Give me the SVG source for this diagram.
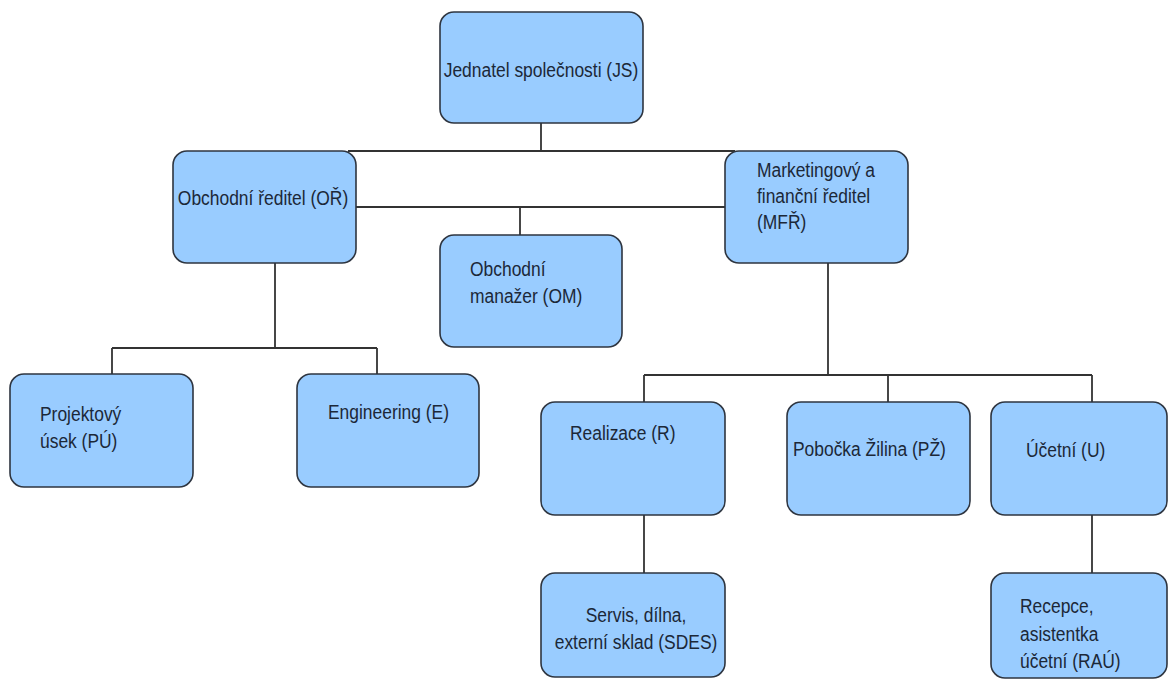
<svg xmlns="http://www.w3.org/2000/svg" width="1170" height="679" viewBox="0 0 1170 679">
<style>
.box{fill:#99ccff;stroke:#2e3540;stroke-width:1.6}
.lbl{font-family:"Liberation Sans",Arial,sans-serif;font-size:21px;fill:#1c2838}
.c{text-anchor:middle}
.conn{stroke:#333;stroke-width:1.8;fill:none}
</style>
<rect width="1170" height="679" fill="#ffffff"/>
<g id="connectors">
<path class="conn" d="M541 123V151M348 151H735"/>
<path class="conn" d="M356 207H725M520 207V235"/>
<path class="conn" d="M275 263V348M112 348H377M112 348V374M377 348V374"/>
<path class="conn" d="M828 263V375M644 375H1092M644 375V402M888 375V402M1092 375V402"/>
<path class="conn" d="M644 515V573M1092 515V573"/>
</g>
<g id="js">
<rect class="box" x="440" y="12" width="203" height="111" rx="14"/>
<text class="lbl c" transform="scale(0.83 1)" x="651.8" y="77">Jednatel společnosti (JS)</text>
</g>
<g id="or">
<rect class="box" x="173" y="151" width="183" height="112" rx="14"/>
<text class="lbl c" transform="scale(0.83 1)" x="316.9" y="205">Obchodní ředitel (OŘ)</text>
</g>
<g id="mfr">
<rect class="box" x="725" y="151" width="183" height="112" rx="14"/>
<text class="lbl" transform="scale(0.83 1)" y="177"><tspan x="912">Marketingový a</tspan><tspan x="912" y="203">finanční ředitel</tspan><tspan x="912" y="229">(MFŘ)</tspan></text>
</g>
<g id="om">
<rect class="box" x="440" y="235" width="182" height="112" rx="14"/>
<text class="lbl" transform="scale(0.83 1)" y="276"><tspan x="566.3">Obchodní</tspan><tspan x="566.3" y="303">manažer (OM)</tspan></text>
</g>
<g id="pu">
<rect class="box" x="10" y="374" width="183" height="113" rx="14"/>
<text class="lbl" transform="scale(0.83 1)" y="421"><tspan x="48.2">Projektový</tspan><tspan x="48.2" y="448">úsek (PÚ)</tspan></text>
</g>
<g id="e">
<rect class="box" x="297" y="374" width="182" height="113" rx="14"/>
<text class="lbl" transform="scale(0.83 1)" x="395.2" y="419">Engineering (E)</text>
</g>
<g id="r">
<rect class="box" x="541" y="402" width="184" height="113" rx="14"/>
<text class="lbl" transform="scale(0.83 1)" x="686.7" y="440">Realizace (R)</text>
</g>
<g id="pz">
<rect class="box" x="787" y="402" width="183" height="113" rx="14"/>
<text class="lbl" transform="scale(0.83 1)" x="955.4" y="456">Pobočka Žilina (PŽ)</text>
</g>
<g id="u">
<rect class="box" x="991" y="402" width="176" height="113" rx="14"/>
<text class="lbl" transform="scale(0.83 1)" x="1236.1" y="457">Účetní (U)</text>
</g>
<g id="sdes">
<rect class="box" x="541" y="573" width="184" height="104" rx="14"/>
<text class="lbl c" transform="scale(0.83 1)" y="622"><tspan x="766.3">Servis, dílna,</tspan><tspan x="766.3" y="649">externí sklad (SDES)</tspan></text>
</g>
<g id="rau">
<rect class="box" x="991" y="573" width="176" height="105" rx="14"/>
<text class="lbl" transform="scale(0.83 1)" y="613"><tspan x="1228.9">Recepce,</tspan><tspan x="1228.9" y="641">asistentka</tspan><tspan x="1228.9" y="668">účetní (RAÚ)</tspan></text>
</g>
</svg>
